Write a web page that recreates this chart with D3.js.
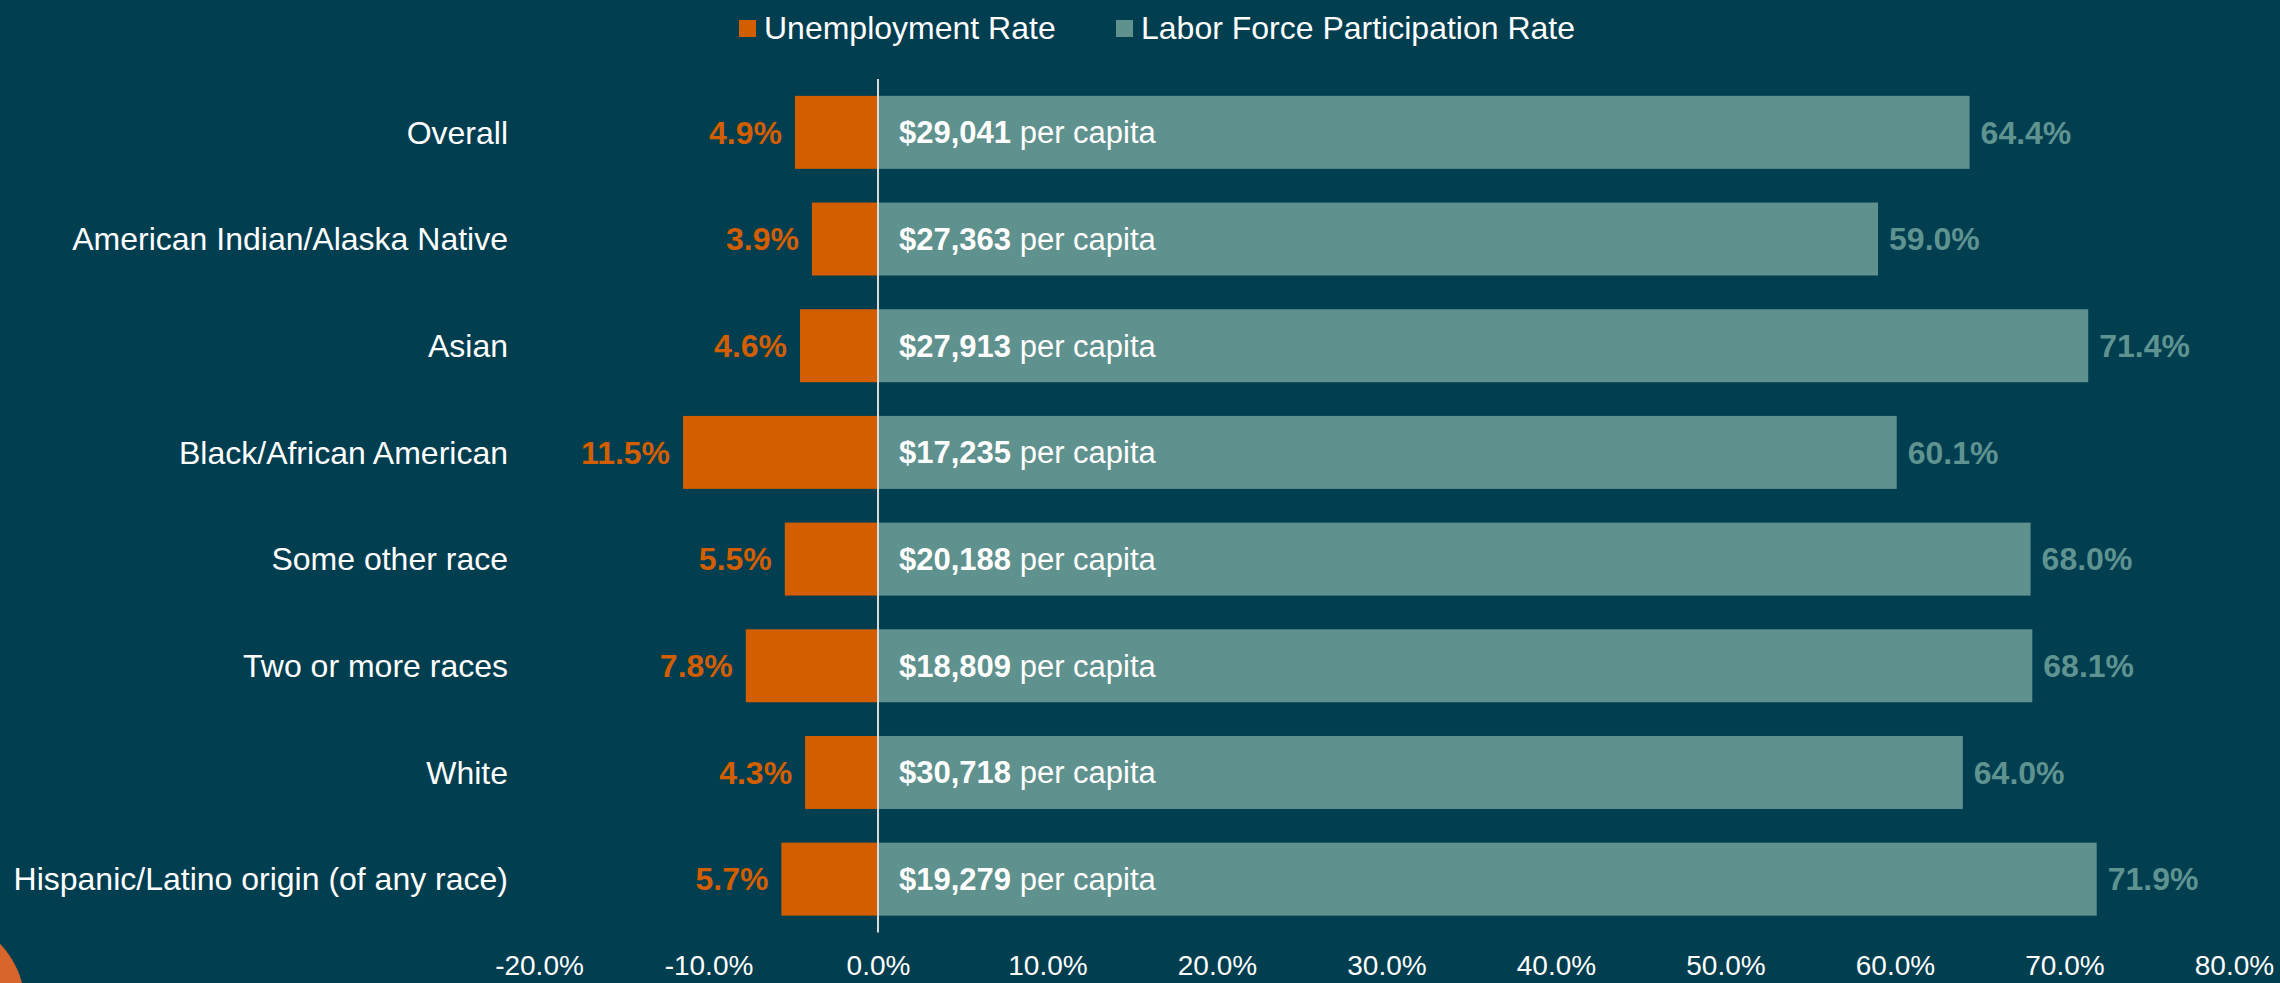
<!DOCTYPE html>
<html>
<head>
<meta charset="utf-8">
<script src="https://cdn.jsdelivr.net/npm/d3@7"></script>
<style>
  html, body { margin: 0; padding: 0; background: #013e50; }
  svg { display: block; font-family: "Liberation Sans", Arial, sans-serif; }
</style>
</head>
<body>
<svg id="chart" width="2280" height="983"></svg>
<script>
// data
const categories = [
  "Overall",
  "American Indian/Alaska Native",
  "Asian",
  "Black/African American",
  "Some other race",
  "Two or more races",
  "White",
  "Hispanic/Latino origin (of any race)"
];
const unemployment = [4.9, 3.9, 4.6, 11.5, 5.5, 7.8, 4.3, 5.7];
const participation = [64.4, 59.0, 71.4, 60.1, 68.0, 68.1, 64.0, 71.9];
const income = ["$29,041", "$27,363", "$27,913", "$17,235", "$20,188", "$18,809", "$30,718", "$19,279"];
const tickValues = [-20, -10, 0, 10, 20, 30, 40, 50, 60, 70, 80];
const seriesNames = ["Unemployment Rate", "Labor Force Participation Rate"];

const orange = "#d35e00";
const teal = "#5f918e";
const tealText = "#5f9390";

const svg = d3.select("#chart");

const x = d3.scaleLinear().domain([-20, 80]).range([539, 2234]);
const y = d3.scaleBand().domain(categories).range([79, 932.5])
  .paddingInner(0.316).paddingOuter(0.158);

const rows = categories.map((c, i) => ({
  c, u: unemployment[i], p: participation[i], inc: income[i]
}));

// decorative circle bottom-left
svg.append("circle").attr("cx", -65).attr("cy", 1006).attr("r", 90).attr("fill", "#d8652b");

// unemployment bars (drawn to the left of zero)
svg.selectAll(".ub").data(rows).join("rect")
  .attr("x", d => x(-d.u))
  .attr("y", d => y(d.c))
  .attr("width", d => x(0) - x(-d.u))
  .attr("height", y.bandwidth())
  .attr("fill", orange);

// participation bars
svg.selectAll(".pb").data(rows).join("rect")
  .attr("x", x(0))
  .attr("y", d => y(d.c))
  .attr("width", d => x(d.p) - x(0))
  .attr("height", y.bandwidth())
  .attr("fill", teal);

// zero line
svg.append("line")
  .attr("x1", x(0)).attr("x2", x(0))
  .attr("y1", y.range()[0]).attr("y2", y.range()[1])
  .attr("stroke", "#d9d9d9").attr("stroke-width", 2);

const mid = d => y(d.c) + y.bandwidth() / 2;

// category labels
svg.selectAll(".cat").data(rows).join("text")
  .attr("x", 508).attr("y", mid).attr("dy", "0.35em")
  .attr("text-anchor", "end").attr("fill", "#fff")
  .attr("font-size", 32)
  .text(d => d.c);

// unemployment labels
svg.selectAll(".ul").data(rows).join("text")
  .attr("x", d => x(-d.u) - 13).attr("y", mid).attr("dy", "0.35em")
  .attr("text-anchor", "end").attr("fill", orange)
  .attr("font-size", 32).attr("font-weight", "bold")
  .text(d => d.u.toFixed(1) + "%");

// participation labels
svg.selectAll(".pl").data(rows).join("text")
  .attr("x", d => x(d.p) + 11).attr("y", mid).attr("dy", "0.35em")
  .attr("fill", tealText)
  .attr("font-size", 32).attr("font-weight", "bold")
  .text(d => d.p.toFixed(1) + "%");

// income labels inside bars
const inc = svg.selectAll(".il").data(rows).join("text")
  .attr("x", x(0) + 21).attr("y", mid).attr("dy", "0.35em")
  .attr("fill", "#fff").attr("font-size", 31);
inc.append("tspan").attr("font-weight", "bold").text(d => d.inc);
inc.append("tspan").text(" per capita");

// x axis
const axis = svg.append("g")
  .attr("transform", "translate(0,952)")
  .call(d3.axisBottom(x).tickValues(tickValues).tickSize(0).tickFormat(d => d.toFixed(1) + "%"));
axis.select(".domain").remove();
axis.selectAll("text")
  .attr("fill", "#fff").attr("font-size", 28)
  .attr("font-family", "\"Liberation Sans\", Arial, sans-serif");

// legend
const legend = [
  { name: seriesNames[0], color: orange, x: 739 },
  { name: seriesNames[1], color: teal, x: 1116 }
];
const lg = svg.selectAll(".lg").data(legend).join("g");
lg.append("rect").attr("x", d => d.x).attr("y", 20).attr("width", 17).attr("height", 17).attr("fill", d => d.color);
lg.append("text").attr("x", d => d.x + 25).attr("y", 39)
  .attr("fill", "#fff").attr("font-size", 32).text(d => d.name);
</script>
</body>
</html>
